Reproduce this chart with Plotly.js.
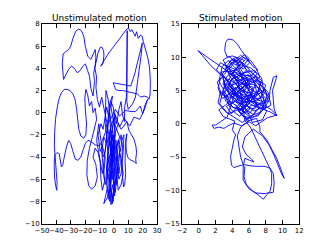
<!DOCTYPE html>
<html>
<head>
<meta charset="utf-8">
<script src="https://cdn.plot.ly/plotly-3.0.1.min.js"></script>
<style>html,body{margin:0;padding:0;background:#fff;}#chart{width:332px;height:249px;}</style>
</head>
<body>
<div id="chart"></div>
<script>
// ---- Data, as [x, y] points along each trajectory ----
const titles = ["Unstimulated motion", "Stimulated motion"];

const unstimPath = [
[-3,-3],[-1,-2],[0,-3.5],[-2,-4.5],[-1,-6],[1,-5.5],[0,-4],[-2,-3],[-4,-2.5],[-2,-1.2],[0,-0.5],[1,-2],[-1,-3],[-3,-4],[-5,-5],[-4,-6.5],[-6,-7.5],[-7,-8.2],[-5,-7.8],[-3,-7],[-2,-8.3],[-1,-7.5],[0,-6.8],[2,-5.8],[1,-4.8],[3,-4],[2,-3],[4,-2.2],[2,-1.5],[0,-1],[-2,0.5],[-1,1.5],[-3,0.8],[-4,-0.5],[-6,-1.8],[-8,-2.5],[-10,-3],[-13,-2.9],[-16,-2.6],[-18,-2.5],[-20,-2.8],[-21.5,-3.4],[-23,-4],[-25,-4.3],[-26.8,-4.2],[-28.5,-3.5],[-30,-2.8],[-31.5,-2.5],[-33,-3.1],[-34.5,-4],[-35.5,-4.7],[-36.5,-4.9],[-37,-4.3],[-38,-3.7],[-39.5,-3.6],[-41,-3.8],[-41.5,-4.5],[-41.3,-5.8],[-40.5,-6.6],[-39.7,-7],[-39.5,-6.3],[-40.2,-5.2],[-41,-4.2],[-41.4,-3],[-41.2,-1.8],[-40.6,-0.6],[-39.5,0.4],[-38.3,1.2],[-36.5,1.8],[-34.5,2.1],[-32.5,2.1],[-30.5,2],[-28.5,1.7],[-27,1.2],[-26,0.4],[-25.2,-0.6],[-24.4,-1.5],[-23,-2.1],[-21,-2.3],[-19.5,-2],[-19,-1],[-19.8,0.2],[-20.2,1.3],[-19.5,2.1],[-18.2,1.6],[-17,0.6],[-15.5,1],[-14.5,0],[-13,0.4],[-12,-0.6],[-13.5,-1.5],[-15,-2.2],[-17,-3.2],[-18.5,-4.3],[-18.8,-5.6],[-17.5,-6.6],[-15.5,-6.9],[-13,-6.6],[-11.5,-5.8],[-12.5,-4.7],[-14.5,-4],[-13,-3.2],[-11,-3.6],[-9.5,-4.5],[-9,-6],[-8,-7],[-6.5,-6.2],[-7.5,-5],[-8.5,-3.5],[-7,-2.2],[-5,-2.8],[-3.5,-3.8],[-4.5,-5.5],[-3,-6.3],[-1.5,-5],[-0.5,-3.2],[1,-1.8],[3,-1],[5,-1.5],[7,-1.2],[9,-0.8],[10.5,-1.6],[12,-2],[14,-2.4],[15.3,-3],[15.8,-3.6],[15.2,-4.2],[15.5,-4.6],[14,-4.4],[12,-4.3],[10,-4.1],[8.7,-3.6],[8.3,-2.6],[9,-1.9],[8,-3],[7.8,-4.5],[8.2,-5.5],[7.5,-6.5],[6.8,-6.7],[6,-5.8],[5.5,-4.5],[4,-3.5],[3,-4.8],[2,-6.5],[1,-7.2],[-0.5,-6],[-2,-4],[-3.5,-2],[-5,-0.8],[-7,0.4],[-8.5,1.4],[-10,0.5],[-11.5,1.2],[-12.5,2.3],[-12,3.2],[-13.2,4],[-12.5,5],[-13,5.7],[-14.5,5.3],[-16,4.8],[-18.2,5.1],[-19.9,6],[-21,6.9],[-22.6,7.4],[-24.5,7.55],[-26.5,7.35],[-28.5,6.7],[-30,6],[-31.5,5.7],[-33.5,5.5],[-35.3,5.3],[-35.9,4.4],[-35.5,3.5],[-35,3.0],[-33.5,3.4],[-31.5,3.9],[-29.5,4.2],[-27.5,4.0],[-25.5,3.6],[-23.5,3.8],[-21.5,4.2],[-19.8,4.4],[-18.3,3.8],[-17,3.3],[-16,2.2],[-14.5,1.5],[-13.5,2.8],[-14,3.6],[-12.5,4.5],[-11,5.4],[-9.5,5.9],[-8.3,5.9],[-7.2,5.6],[-6.9,5.2],[-7.6,4.4],[-9.2,4.2],[-4,5.3],[0,6],[4,6.7],[6.8,7.2],[9,7.55],[10.3,7.6],[11.5,7.3],[12.5,7.5],[13.8,7.1],[14.8,6.9],[15.8,7.3],[17,6.7],[18.5,7],[19.6,6.9],[20.5,6.4],[22,5.7],[23.5,5],[24.8,4.1],[25.4,2.8],[25.2,1.6],[24.4,1.2],[23.5,1.4],[21,1.5],[18.6,1.4],[16.3,1.7],[12.8,1.8],[9,1.9],[5.9,2],[3,2],[1.2,2.1],[-0.5,2.7],[3,2.6],[8,2.5],[11.7,2.4],[14.5,3.5],[17,4.8],[19.8,6.3],[19,5.2],[17,3.2],[15,1.4],[13,0.8],[10,0.3],[9,1],[9.1,3],[8.9,5],[9.1,6.5],[9.3,7.4],[9.2,5.5],[9,3.5],[8.8,1.5],[7.5,0.5],[7.4,-0.8],[6,-0.2],[5,1],[3.5,0.3],[2,-1],[0.5,0],[-1,-1.5],[-2.5,-0.5],[-4,1.2],[-5.5,2],[-5.5,0.5],[-6,-1],[-4,-3],[-5,-5],[-3,-6],[-4,-7.5],[-2.5,-7],[-1.5,-5.5],[-2,-3],[-1,-1.5],[0.5,-3],[0,-5],[1.5,-6.5],[2.5,-5],[1.5,-3.5],[3,-2.5],[4.5,-3.5],[5.5,-2.5],[7,-2],[6.5,-3.5],[5,-5.5],[3.5,-6],[2,-4.5],[0.5,-2],[-1.5,-2.5],[-3,-4.5],[-2.5,-6.5],[-1,-8.2],[0,-7],[-1,-5],[-2,-2],[-3,0],[-4.5,-1.5],[-6,-3.5],[-7.5,-4],[-9,-2.5],[-10.5,-1],[-12,-2.5],[-10,-4],[-8,-5.5],[-7,-4.5],[-5.5,-3],[-4,-1],[-2,-0.5],[1,0.3],[4,-0.3],[8,0.2],[12,0.1],[15,0.1],[18.4,0.6],[20,-0.1],[22,0.8],[23.5,1.2],[21,0.2],[18,-0.6],[14,-0.4],[11,-1.2],[7,-0.5],[4,-1.3],[1,-0.2],[-1.5,-1.5],[-3,-2.5],[-2,-3.5],[-0.5,-4.5],[1,-3.5],[-0.5,-2.5],[-2.5,-1.5],[-4,-3.5],[-5.5,-6],[-4.5,-7],[-3,-8],[-2,-6],[-1,-4],[0,-2.5],
[-1.5,-4],[-2.5,-6],[-3.5,-7.8],[-2,-7.5],[-1,-6.5],[0.5,-7.5],[1,-6],[0,-4.5],[-0.5,-3],[1.5,-2.5],[2.5,-4],[3.5,-5.5],[4.5,-4.5],[3.5,-3],[5,-2],[6,-3],[5.5,-4.5],[6.5,-5.5],[5,-6.5],[3,-7],[2,-5.5],[1,-4],[-1,-3.5],[-2.5,-4.5],[-4,-5.5],[-6,-6.5],[-7,-5.5],[-6,-4],[-8,-3],[-9.5,-3.5],[-11,-2],[-9,-1],[-7.5,-1.5],[-6.5,-0.5],[-5,0.5],[-3.5,-0.5],[-2,1],[-0.5,0.5],[1,-1],[0,-2],[-1.5,-3.5],[-3,-5.5],[-2,-7],[-0.5,-8],[0.5,-6.5],[-0.5,-5]
];

const stimPath = [
[5,5],[6,6.5],[4.5,7.5],[3.5,6],[5,4],[7,3],[6,1.5],[4,2.5],[3,4.5],[4,6.8],[6,8],[7.5,6.5],[7,4.5],[5.5,3.5],[4,4.5],[5,6],[6.5,5.5],[5.5,2.5],[3.5,1.5],[2.5,3],[3,5.5],[4.5,8.5],[5.5,9.5],[4,10.2],[3.4,10],[3.1,11],[3.2,12.2],[3.5,12.75],[4.1,12.6],[4.6,12],[5.1,11],[5.7,9.9],[6.4,8.7],[7,8.15],[6.3,7.3],[5,6.5],[3.5,7.8],[2.5,8.8],[1.6,9.5],[0.8,10.2],[0,10.9],[-0.1,11],[0.4,10.3],[1.4,8.8],[2.4,7.6],[3.5,6.5],[4.5,5],[6,3.5],[7.5,3],[8.4,3.4],[8.5,5],[8.9,7],[9.3,7.2],[9.2,6.6],[8.8,5],[8.9,3.5],[9,2.2],[9.3,1.2],[8.5,1.8],[7,2.5],
[4.2,9.8],[5.3,8.2],[6.1,9.2],[5,10.3],[3.8,9],[2.8,7.5],[3.2,5.2],[4.8,3.1],[6.6,2.2],[7.8,3.6],[7.2,5.8],[5.9,7.4],[4.4,6.2],[5.1,4.4],[6.8,4.1],[7.9,5.2],[8.3,3.3],[7.1,1.2],[5.6,0.8],[4.7,1.9],[5.9,3.2],[6.5,5],[5.2,6.9],[3.9,8.1],[2.6,9.2],[2.1,8.1],[3.3,6.6],[4.1,4.9],[3.6,3.2],[2.4,2.1],[2.9,1.1],[4.3,0.4],
[4.0,-0.9],[4.4,-1.7],[4.2,-2.4],[4,-3.7],[3.8,-4.9],[3.9,-6.2],[4.2,-6.6],[4.6,-6.4],[5.2,-6.2],[5.5,-6.5],[5.4,-8],[5.7,-9.2],[6.5,-10.2],[7.1,-10.7],[7.7,-11.35],[8.1,-10.7],[8.5,-10.2],[8.7,-9],[8.7,-7.5],[8.5,-6.7],[7.9,-6.4],[6.9,-6.4],[6,-6.3],[5.3,-6.1],[5,-5],[4.8,-3.5],[4.6,-1.8],[5,-0.5],[6,0.5],
[5.1,1.4],[6.2,2.7],[7.4,2.9],[8.1,1.9],[7.6,0.6],[6.4,0.2],[5.8,1.9],[4.9,3.6],[4,5.6],[3,7.2],[2.2,6.3],[2.7,4.4],[3.9,3.9],[5.4,5.1],[6.3,6.6],[7,7.5],[6.2,8.4],[4.9,8.9],[4.1,7.6],[4.7,6],[5.8,4.6],[6.9,3.4],[7.8,4.5],[7.5,6.9],[6.6,8],[5.3,7.6],[4.6,9.2],[3.6,10.1],[2.9,9.6],[3.4,8.5],[4.5,7.1],[5.6,5.8],[6.3,4.2],[7.2,2.4],[6.5,1.4],[5.3,2.4],[4.3,3.4],[3.3,2.6],[3.9,1.5],[4.8,2.8],[5.6,4.1],[6.1,5.6],[5.6,7.1],[4.3,8.2],[3.2,8.8],[3.7,7.1],[4.8,5.4],[6,3.9],[7.3,3.8],[8,5.8],[7.1,6.5],[6,6],[5,5.2],[4.2,4.2],[3.5,5],[3.8,6.5],[5,7.4],[6.2,7.2],[6.8,5.9],[6.4,4.8],[5.3,3.2],[4.6,2.2],[5.8,0.4],[6.9,0.8],[7.3,-0.5],
[7.3,-1.2],[8.1,-2.4],[8.7,-3.7],[9.3,-5.2],[9.7,-6.5],[10.1,-8],[10.2,-8.2],[9.9,-7.6],[9.5,-6.3],[9,-4.8],[8.4,-3.2],[7.6,-1.8],[6.5,-0.8],[5.5,-2],[5.2,-3.5],[5.7,-4.7],[6.2,-5.2],[6.6,-5.75],[6.1,-5.5],[5.5,-5.2],[5.3,-6.4],[5.3,-8.5],[6,-9.8],[6.8,-10.4],[7.8,-10.5],[8.9,-10.3],[9,-9],[8.9,-7.5],[8.4,-6.5],[7.5,-4],[6.8,-2],[6.2,-0.6],[5.5,0.5],
[5,4.6],[4.6,6.7],[5.7,8.1],[4.8,9.6],[3.9,9.1],[3.3,7.8],[2.6,6.8],[2.3,5.4],[2.8,3.8],[3.6,4.4],[4.4,5.5],[5.2,4],[6.1,2.2],[5.4,1.6],[4.5,4.2],[3.8,5.7],[4.9,6.3],[6.1,5.2],[7.1,4.6],[7.6,3.2],[6.8,2.8],[5.9,3.6],[5.1,5.7],[4,7.2],[3.1,8.2],[3.9,9.6],[5.2,9.1],[5.8,7.9],[6.7,6.8],[7.6,5.4],[8.2,4.4],[7.7,2.5],[6.6,1.9],[5.5,2.9],[4.4,4.8],[3.4,6],[2.9,5],[3.2,3.4],[4.1,2.5],[5.2,2.1],[6,3],[6.9,4.9],[6.6,6.2],[5.5,6.6],[4.3,6.5],[3.7,5.3],
[4.6,3.8],[5.7,5.3],[4.8,7.9],[3.6,9.3],[4.4,10],[5.6,8.8],[6.5,7.4],[7.4,6.2],[6.9,4.2],[5.6,2.6],[4.9,1.1],[3.8,2.2],[3.2,4.1],[4.3,5.2],[5.4,6.4],[6.2,6.9],[7.3,5.1],[6.2,3.5],[5,3],[4.1,3.6],[3.1,5.9],[2.7,7.8],[3.9,7.9],[5.1,8.4],[6,9.8],[5.5,10.4],[4.3,9.3],[3.6,8.2],[4.2,6.9],[5.3,6],[6.5,5.9],[7.7,4.8],[8.4,4],[7.9,3.2],[7,3.6],[6.2,4.6],[5.3,4.9],[4.5,5.9],[3.6,6.7],[3,6.3],[3.9,4.8],[4.8,4.2],[5.8,3.2],[6.7,2.6],[7.8,2.2],[8.6,2.8],[8.3,4.7],[7.5,5.7],[6.8,7.1],[5.9,6.5],[5.2,5.4],[4.3,4.5],
[3.4,1],[2.6,0.3],[2,-0.2],[1.6,-0.2],[1.8,-0.7],[2.4,-0.5],[3,-0.7],[3.5,-0.3],[4.2,0.1],[5.1,-0.3],[6,0.3],[6.8,-0.3],[7.5,0.3],[8.2,0.9],[9.3,1.3],[8.6,2.2],
[7.5,2.9],[6.4,1.2],[5.2,0.2],[4.1,1.1],[3.2,1.8],[2.3,3.1],[2.6,4.9],[3.5,3.6],[4.7,2.5],[6,1.1],[7.3,1.7],[8,3.8],[7.2,4.9],[6.1,4.3],[5,3.9],[3.9,3],[3.1,4.7],[2.4,6.4],[2.8,8.6],[3.5,9.5],[4.5,8.8],[5.3,10],[6.2,9.5],[6.9,8.3],[7.3,7],[6.4,6.2],[5.4,7.3],[4.3,7.8],[3.4,7.2],[2.9,6],[3.8,4.1],[5,3.4],[6.4,3.3],[7.6,4],[8.1,2.6],[7.2,1.5],[6.3,0.8],[5.2,1.2],[4.4,2.9]
];

// ---- Plot ----
const lineStyle = {color: '#0000ff', width: 0.9};
const traces = [
  {x: unstimPath.map(p => p[0]), y: unstimPath.map(p => p[1]), xaxis: 'x', yaxis: 'y', type: 'scatter', mode: 'lines', line: lineStyle, hoverinfo: 'skip'},
  {x: stimPath.map(p => p[0]), y: stimPath.map(p => p[1]), xaxis: 'x2', yaxis: 'y2', type: 'scatter', mode: 'lines', line: lineStyle, hoverinfo: 'skip'}
];

const tickFont = {family: 'DejaVu Sans', size: 7, color: '#000'};
function ax(domain, range, dtick, anchor) {
  return {
    domain: domain, range: range, dtick: dtick, tick0: 0, anchor: anchor,
    showgrid: false, zeroline: false, showline: true, linecolor: '#000', linewidth: 1,
    mirror: 'ticks', ticks: 'inside', ticklen: 4, tickwidth: 1, tickcolor: '#000',
    tickfont: tickFont, tickangle: 0, fixedrange: true
  };
}

const yDom = [0.1024, 0.9036];
const titleFont = {family: 'DejaVu Sans', size: 9, color: '#000'};
const layout = {
  width: 332, height: 249,
  margin: {l: 0, r: 0, t: 0, b: 0},
  paper_bgcolor: '#fff', plot_bgcolor: '#fff',
  showlegend: false,
  xaxis: ax([0.1265, 0.4729], [-50, 30], 10, 'y'),
  yaxis: ax(yDom, [-10, 8], 2, 'x'),
  xaxis2: ax([0.5482, 0.9015], [-2, 12], 2, 'y2'),
  yaxis2: ax(yDom, [-15, 15], 5, 'x2'),
  annotations: [
    {text: titles[0], xref: 'paper', yref: 'paper', x: (0.1265 + 0.4729) / 2, y: yDom[1], xanchor: 'center', yanchor: 'bottom', yshift: -1, showarrow: false, font: titleFont},
    {text: titles[1], xref: 'paper', yref: 'paper', x: (0.5482 + 0.9015) / 2, y: yDom[1], xanchor: 'center', yanchor: 'bottom', yshift: -1, showarrow: false, font: titleFont}
  ]
};

Plotly.newPlot('chart', traces, layout, {staticPlot: true, displayModeBar: false});
</script>
</body>
</html>
